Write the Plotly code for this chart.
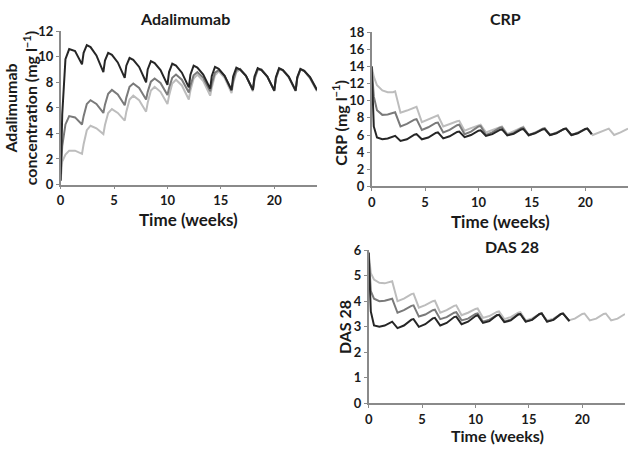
import plotly.graph_objects as go

# ---------------- data ----------------
# Adalimumab concentration (mg/l)
T_ADA = [0, 0.15, 0.45, 0.8, 1.35, 2, 2.15, 2.45, 2.8, 3.35, 4, 4.15, 4.45, 4.8, 5.35,
         6, 6.15, 6.45, 6.8, 7.35, 8, 8.15, 8.45, 8.8, 9.35, 10, 10.15, 10.45, 10.8, 11.35,
         12, 12.15, 12.45, 12.8, 13.35, 14, 14.15, 14.45, 14.8, 15.35, 16, 16.15, 16.45, 16.8, 17.35,
         18, 18.15, 18.45, 18.8, 19.35, 20, 20.15, 20.45, 20.8, 21.35, 22, 22.15, 22.45, 22.8, 23.35, 24]
ADA_BLACK = [0.3, 5.5, 9.8, 10.6, 10.45, 9.4, 10.3, 10.9, 10.75, 10.1, 8.8, 9.7, 10.3, 10.15, 9.55,
             8.35, 9.3, 9.9, 9.75, 9.2, 8.0, 9.0, 9.65, 9.5, 8.95, 7.8, 8.8, 9.45, 9.3, 8.75,
             7.6, 8.6, 9.3, 9.15, 8.6, 7.5, 8.5, 9.2, 9.05, 8.5, 7.4, 8.45, 9.15, 9.0, 8.5,
             7.4, 8.45, 9.1, 8.95, 8.45, 7.35, 8.4, 9.1, 8.95, 8.45, 7.35, 8.4, 9.05, 8.9, 8.4, 7.4]
ADA_DARK = [0.8, 3.0, 4.7, 5.35, 5.25, 4.7, 5.35, 6.3, 6.6, 6.3, 5.6, 6.25, 7.1, 7.4, 7.05,
            6.2, 6.8, 7.65, 7.9, 7.55, 6.65, 7.25, 8.05, 8.3, 7.95, 7.0, 7.55, 8.35, 8.6, 8.2,
            7.2, 7.75, 8.55, 8.8, 8.35, 7.3, 7.9, 8.75, 8.95, 8.5, 7.35, 8.1, 8.95, 9.05, 8.5,
            7.4, 8.3, 9.0, 9.0, 8.45, 7.35, 8.3, 9.05, 8.95, 8.4, 7.35, 8.3, 9.0, 8.9, 8.35, 7.35]
ADA_LIGHT = [0.3, 1.8, 2.35, 2.65, 2.65, 2.4, 3.15, 4.25, 4.6, 4.4, 3.95, 4.65, 5.6, 5.9, 5.6,
             5.0, 5.7, 6.65, 6.95, 6.6, 5.7, 6.4, 7.35, 7.65, 7.25, 6.3, 6.95, 7.9, 8.2, 7.75,
             6.65, 7.35, 8.3, 8.6, 8.1, 6.95, 7.6, 8.55, 8.85, 8.35, 7.15, 7.9, 8.8, 9.0, 8.5,
             7.3, 8.2, 8.95, 9.0, 8.45, 7.3, 8.25, 9.0, 8.95, 8.4, 7.3, 8.3, 9.0, 8.9, 8.3, 7.3]

# CRP (mg/l)
T_LONG = [0, 0.2, 0.5, 1.0, 1.5, 2.0, 2.2, 2.7, 3.3, 4.0, 4.2, 4.7, 5.3, 6.0, 6.2, 6.7, 7.3,
          8.0, 8.2, 8.7, 9.3, 10.0, 10.2, 10.7, 11.3, 12.0, 12.2, 12.7, 13.3, 14.0, 14.2, 14.7, 15.3,
          16.0, 16.2, 16.7, 17.3, 18.0, 18.2, 18.7, 19.3, 20.0, 20.2, 20.7, 21.3, 22.0, 22.2, 22.7, 23.3, 24.0]
T_CRP_SHORT = [0, 0.2, 0.5, 1.0, 1.5, 2.0, 2.2, 2.7, 3.3, 4.0, 4.2, 4.7, 5.3, 6.0, 6.2, 6.7, 7.3,
               8.0, 8.2, 8.7, 9.3, 10.0, 10.2, 10.7, 11.3, 12.0, 12.2, 12.7, 13.3, 14.0, 14.2, 14.7, 15.3,
               16.0, 16.2, 16.7, 17.3, 18.0, 18.2, 18.7, 19.3, 20.0, 20.2, 20.6]
CRP_LIGHT = [14.0, 12.8, 11.8, 11.2, 11.0, 11.0, 11.1, 8.6, 8.85, 9.25, 9.3, 7.5, 7.85,
             8.25, 8.3, 7.0, 7.3, 7.6, 7.65, 6.5, 6.8, 7.15, 7.2, 6.3, 6.6, 6.95, 7.0, 6.1, 6.45,
             6.9, 6.95, 6.0, 6.3, 6.7, 6.75, 6.0, 6.3, 6.7, 6.75, 6.0, 6.3, 6.7, 6.75, 6.0, 6.3,
             6.7, 6.75, 6.0, 6.3, 6.75]
CRP_DARK = [14.0, 10.5, 8.9, 8.35, 8.4, 8.6, 8.65, 7.0, 7.3, 7.8, 7.85, 6.6, 6.9,
            7.4, 7.45, 6.3, 6.6, 7.15, 7.2, 6.1, 6.4, 7.0, 7.05, 6.0, 6.3, 6.85, 6.9, 6.0, 6.25,
            6.8, 6.85, 5.95, 6.25, 6.75, 6.8, 6.0, 6.25, 6.7, 6.75, 6.0, 6.25, 6.7, 6.75, 6.1]
CRP_BLACK = [14.0, 7.0, 5.7, 5.5, 5.6, 5.85, 5.9, 5.3, 5.5, 6.05, 6.1, 5.5, 5.7,
             6.25, 6.3, 5.6, 5.85, 6.35, 6.4, 5.75, 6.0, 6.5, 6.55, 5.9, 6.1, 6.6, 6.65, 5.95, 6.15,
             6.65, 6.7, 6.0, 6.2, 6.65, 6.7, 6.0, 6.2, 6.7, 6.75, 6.0, 6.2, 6.7, 6.75, 6.1]

# DAS 28
T_DAS_SHORT = [0, 0.2, 0.5, 1.0, 1.5, 2.0, 2.2, 2.7, 3.3, 4.0, 4.2, 4.7, 5.3, 6.0, 6.2, 6.7, 7.3,
               8.0, 8.2, 8.7, 9.3, 10.0, 10.2, 10.7, 11.3, 12.0, 12.2, 12.7, 13.3, 14.0, 14.2, 14.7, 15.3,
               16.0, 16.2, 16.7, 17.3, 18.0, 18.2, 18.8]
DAS_LIGHT = [5.9, 5.1, 4.85, 4.72, 4.7, 4.75, 4.78, 4.0, 4.1, 4.28, 4.3, 3.75, 3.85,
             4.0, 4.02, 3.55, 3.65, 3.82, 3.84, 3.45, 3.55, 3.7, 3.72, 3.35, 3.42, 3.58, 3.6, 3.3, 3.38,
             3.55, 3.57, 3.25, 3.33, 3.5, 3.52, 3.25, 3.32, 3.5, 3.52, 3.25, 3.32, 3.5, 3.52, 3.25, 3.32,
             3.5, 3.52, 3.25, 3.32, 3.5]
DAS_DARK = [5.9, 4.4, 4.1, 4.0, 4.02, 4.08, 4.1, 3.55, 3.65, 3.82, 3.84, 3.4, 3.48,
            3.65, 3.67, 3.3, 3.38, 3.55, 3.57, 3.25, 3.32, 3.5, 3.52, 3.2, 3.28, 3.45, 3.47, 3.2, 3.28,
            3.48, 3.5, 3.2, 3.28, 3.5, 3.52, 3.2, 3.28, 3.5, 3.52, 3.22]
DAS_BLACK = [5.9, 3.6, 3.05, 3.0, 3.05, 3.18, 3.2, 2.95, 3.05, 3.28, 3.3, 3.0, 3.1,
             3.33, 3.35, 3.05, 3.15, 3.38, 3.4, 3.1, 3.2, 3.42, 3.45, 3.15, 3.22, 3.45, 3.47, 3.18, 3.25,
             3.48, 3.5, 3.2, 3.27, 3.5, 3.52, 3.2, 3.27, 3.5, 3.52, 3.22]

X_TICKS = [0, 5, 10, 15, 20]
ADA_TICKS = [0, 2, 4, 6, 8, 10, 12]
CRP_TICKS = [0, 2, 4, 6, 8, 10, 12, 14, 16, 18]
DAS_TICKS = [0, 1, 2, 3, 4, 5, 6]

LIGHT = "#bdbdbd"
DARK = "#7a7a7a"
BLACK = "#262626"
FONT = "Lato"

fig = go.Figure()

def add(x, y, color, ax):
    fig.add_trace(go.Scatter(x=x, y=y, mode="lines", line=dict(color=color, width=2),
                             xaxis="x" + ax, yaxis="y" + ax, showlegend=False, hoverinfo="skip"))

add(T_ADA, ADA_LIGHT, LIGHT, "")
add(T_ADA, ADA_DARK, DARK, "")
add(T_ADA, ADA_BLACK, BLACK, "")
add(T_LONG, CRP_LIGHT, LIGHT, "2")
add(T_CRP_SHORT, CRP_DARK, DARK, "2")
add(T_CRP_SHORT, CRP_BLACK, BLACK, "2")
add(T_LONG, DAS_LIGHT, LIGHT, "3")
add(T_DAS_SHORT, DAS_DARK, DARK, "3")
add(T_DAS_SHORT, DAS_BLACK, BLACK, "3")

W, H = 630, 452
def px(a, b):
    return [a / W, b / W]
def py(top, bottom):
    return [1 - bottom / H, 1 - top / H]

tickfont = dict(family=FONT, size=13, color="#1a1a1a", weight="bold")
axis_common = dict(showgrid=False, zeroline=False, showline=True, linecolor="#8a8a8a",
                   linewidth=1.5, ticks="outside", ticklen=3, tickcolor="#8a8a8a",
                   tickfont=tickfont, mirror=False, fixedrange=True)

fig.update_layout(
    width=W, height=H, margin=dict(l=0, r=0, t=0, b=0),
    plot_bgcolor="white", paper_bgcolor="white",
    xaxis=dict(domain=px(57, 315), range=[0, 24], tickvals=X_TICKS, anchor="y", **axis_common),
    yaxis=dict(domain=py(24, 183), range=[0, 12], tickvals=ADA_TICKS, anchor="x", **axis_common),
    xaxis2=dict(domain=px(370, 628), range=[0, 24], tickvals=X_TICKS, anchor="y2", **axis_common),
    yaxis2=dict(domain=py(25, 185), range=[0, 18], tickvals=CRP_TICKS, anchor="x2", **axis_common),
    xaxis3=dict(domain=px(367, 625), range=[0, 24], tickvals=X_TICKS, anchor="y3", **axis_common),
    yaxis3=dict(domain=py(251, 410), range=[0, 6], tickvals=DAS_TICKS, anchor="x3", **axis_common),
)

def note(text, x, y, size=16, angle=0):
    fig.add_annotation(text=text, x=x / W, y=1 - y / H, xref="paper", yref="paper",
                       showarrow=False, textangle=angle, xanchor="center", yanchor="middle",
                       font=dict(family=FONT, size=size, color="#1a1a1a", weight="bold"))

note("Adalimumab", 182, 11)
note("CRP", 505, 11)
note("DAS 28", 511, 247)
note("Time (weeks)", 186, 219, size=17)
note("Time (weeks)", 500, 221, size=17)
note("Time (weeks)", 497, 443, size=16)
note("Adalimumab<br>concentration (mg l<sup>−1</sup>)", 17, 104, angle=-90)
note("CRP (mg l<sup>−1</sup>)", 338, 119, angle=-90)
note("DAS 28", 342, 331, angle=-90)

fig.write_html("out.html", config={"displayModeBar": False},
               post_script="document.body.style.margin='0';document.body.style.overflow='hidden';")
